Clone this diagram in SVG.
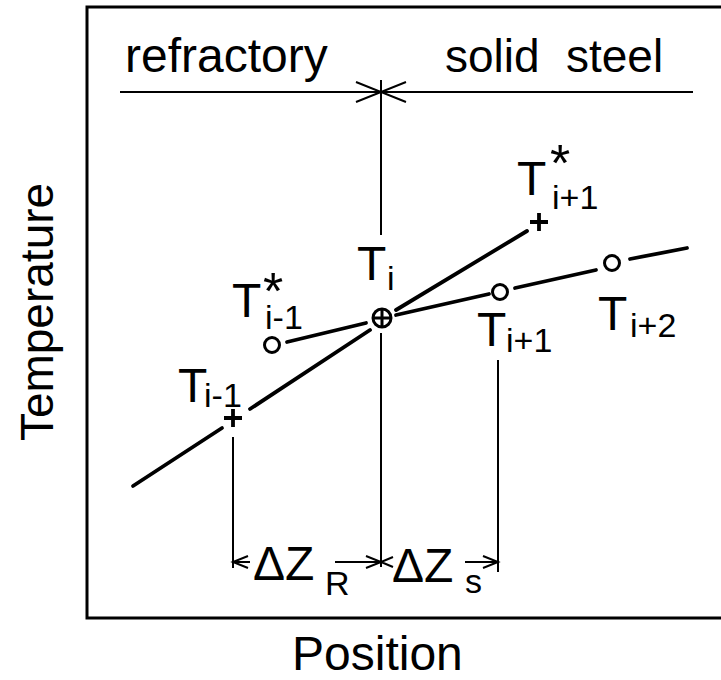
<svg xmlns="http://www.w3.org/2000/svg" width="721" height="680" viewBox="0 0 721 680">
<style>
text{font-family:"Liberation Sans",Arial,sans-serif;fill:#000}
.big{font-size:48px}
.sub{font-size:34px}
.lbl{font-size:46px}
.ast{font-size:52px}
.ln{stroke:#000;stroke-width:3.8;fill:none;stroke-linecap:round}
.thin{stroke:#000;stroke-width:2;fill:none}
.mk{stroke:#000;stroke-width:3;fill:none}
.plus{stroke:#000;stroke-width:3.8;fill:none}
</style>
<rect width="721" height="680" fill="#fff"/>
<g id="frame">
<polyline points="721,7 87,7 87,618 721,618" fill="none" stroke="#000" stroke-width="3"/>
</g>
<g id="axis-labels">
<text class="lbl" transform="translate(53,312) rotate(-90)" text-anchor="middle">Temperature</text>
<text class="big" x="292" y="670">Position</text>
</g>
<g id="regions">
<text class="big" x="125" y="72">refractory</text>
<text class="lbl" x="445" y="72">solid</text>
<text class="lbl" x="566" y="72">steel</text>
</g>
<g id="connectors">
<line class="thin" x1="120" y1="92" x2="693" y2="92"/>
<line class="thin" x1="381" y1="80" x2="381" y2="235"/>
<polyline class="thin" points="356,82 381,92 356,102"/>
<polyline class="thin" points="406,82 381,92 406,102"/>
<line class="ln" x1="133" y1="486" x2="222" y2="428"/>
<line class="ln" x1="250" y1="409" x2="370" y2="330"/>
<line class="ln" x1="396" y1="310" x2="527" y2="231"/>
<line class="ln" x1="287" y1="342" x2="366" y2="323"/>
<line class="ln" x1="396" y1="315" x2="489" y2="294"/>
<line class="ln" x1="515" y1="288" x2="596" y2="270"/>
<line class="ln" x1="630" y1="259" x2="687" y2="248"/>
<line class="thin" x1="233" y1="437" x2="233" y2="568"/>
<line class="thin" x1="381" y1="333" x2="381" y2="567"/>
<line class="thin" x1="498" y1="360" x2="498" y2="572"/>
<line class="thin" x1="233" y1="562" x2="250" y2="562"/>
<polyline class="thin" points="248,556 233,562 248,568"/>
<line class="thin" x1="335" y1="562" x2="381" y2="562"/>
<polyline class="thin" points="366,556 381,562 366,568"/>
<polyline class="thin" points="393,557 381,562 393,567"/>
<line class="thin" x1="465" y1="562" x2="498" y2="562"/>
<polyline class="thin" points="483,556 498,562 483,568"/>
</g>
<g id="Ti-1">
<path class="plus" d="M224,418 H242 M233,409 V427"/>
<text class="big" x="178" y="402">T</text><text class="sub" x="204" y="407">i-1</text>
</g>
<g id="Ti-1star">
<circle class="mk" cx="272" cy="345" r="7.5"/>
<text class="big" x="232" y="317">T</text><text class="ast" x="263" y="309">*</text><text class="sub" x="265" y="329">i-1</text>
</g>
<g id="Ti">
<circle class="mk" cx="382" cy="318" r="9"/>
<path class="mk" d="M373,318 H391 M382,309 V327"/>
<text class="big" x="357" y="280">T</text><text class="sub" x="387" y="290">i</text>
</g>
<g id="Ti+1star">
<path class="plus" d="M530,222 H548 M539,213 V231"/>
<text class="big" x="517" y="195">T</text><text class="ast" x="550" y="181">*</text><text class="sub" x="552" y="209">i+1</text>
</g>
<g id="Ti+1">
<circle class="mk" cx="500" cy="292" r="7.5"/>
<text class="big" x="477" y="346">T</text><text class="sub" x="506" y="352">i+1</text>
</g>
<g id="Ti+2">
<circle class="mk" cx="612" cy="263" r="7.5"/>
<text class="big" x="598" y="330">T</text><text class="sub" x="630" y="337">i+2</text>
</g>
<g id="dimensions">
<text class="big" x="253" y="580">ΔZ</text><text class="sub" x="325" y="595">R</text>
<text class="big" x="392" y="582">ΔZ</text><text class="sub" x="465" y="593">s</text>
</g>
</svg>
